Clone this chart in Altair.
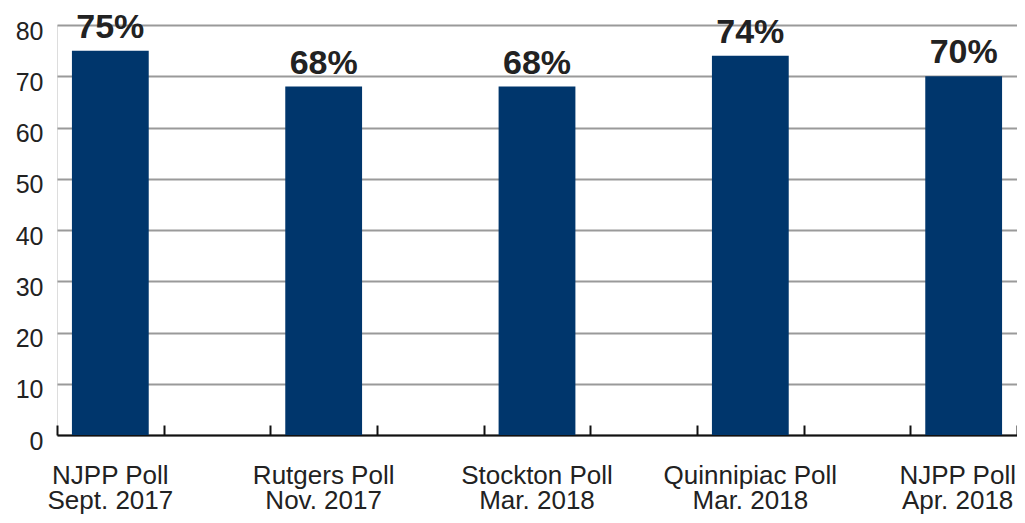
import altair as alt
import pandas as pd

polls = ["NJPP Poll|Sept. 2017", "Rutgers Poll|Nov. 2017", "Stockton Poll|Mar. 2018",
         "Quinnipiac Poll|Mar. 2018", "NJPP Poll|Apr. 2018"]
values = [75, 68, 68, 74, 70]
spacers = ["gap1", "gap2", "gap3", "gap4"]

domain = []
for i, p in enumerate(polls):
    domain.append(p)
    if i < len(spacers):
        domain.append(spacers[i])

df = pd.DataFrame({"poll": polls, "value": values})

FONT = "Liberation Sans"
BAR = "#00366c"

xscale = alt.Scale(domain=domain, paddingInner=0, paddingOuter=0)
yenc = alt.Y("value:Q", scale=alt.Scale(domain=[0, 80]),
             axis=alt.Axis(values=list(range(0, 81, 10)), grid=True, gridColor="#9a9a9a",
                           gridWidth=2, domain=False, ticks=False, labelFontSize=25,
                           labelFont=FONT, labelColor="#222", labelPadding=14,
                           labelOffset=6, title=None))

bars = alt.Chart(df).mark_bar(color=BAR, width=alt.RelativeBandSize(0.72)).encode(
    x=alt.X("poll:N", scale=xscale, sort=domain,
            axis=alt.Axis(orient="top", offset=-410, labels=False, grid=False,
                          domain=True, domainColor="#111", domainWidth=2,
                          ticks=True, tickColor="#111", tickWidth=2, tickSize=10,
                          tickBand="extent", title=None)),
    y=yenc,
)

last_label = polls[-1]
texts = alt.Chart(df).transform_calculate(
    label="datum.value + '%'"
).mark_text(dy=-13, baseline="alphabetic", fontSize=34, fontWeight="bold",
            font=FONT, color="#222").encode(
    x=alt.X("poll:N", scale=xscale, sort=domain,
            axis=alt.Axis(orient="bottom", labels=True, ticks=False, domain=False, grid=False,
                          labelExpr="indexof(datum.label, '|') >= 0 ? split(datum.label, '|') : ''",
                          labelFontSize=26, labelFont=FONT, labelColor="#222",
                          labelPadding=27, labelLineHeight=25, labelAngle=0,
                          labelOffset={"condition": {"test": f"datum.value === '{last_label}'",
                                                     "value": -6}, "value": 0},
                          labelLimit=0, title=None)),
    y=yenc,
    text="label:N",
)

chart = alt.layer(bars, texts).resolve_scale(x="shared").resolve_axis(x="independent").properties(
    width=960, height=410,
    autosize=alt.AutoSizeParams(type="none"),
    padding={"left": 49, "top": 17, "right": 0, "bottom": 80},
).configure_view(stroke=None).configure(font=FONT)

chart.save("out.html", embed_options={"renderer": "svg", "actions": False})
